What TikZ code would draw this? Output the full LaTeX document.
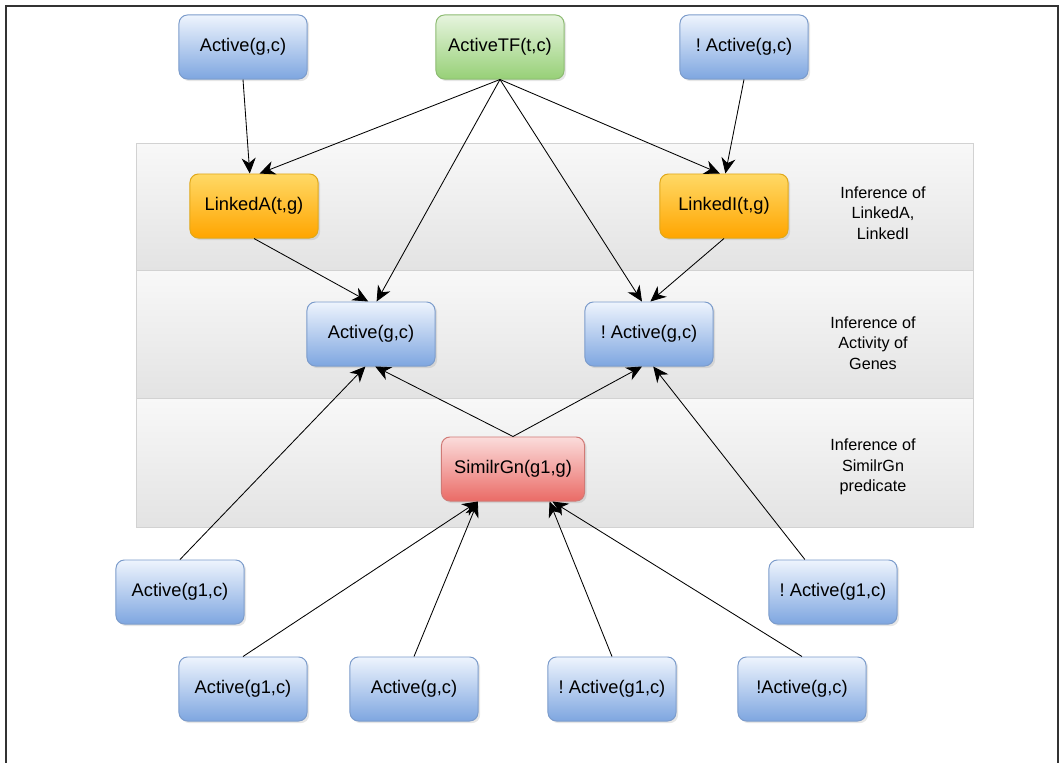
\documentclass[tikz,border=0pt]{standalone}
\usepackage{fontspec}
\setmainfont{Liberation Sans}
\usetikzlibrary{arrows.meta,shadows}
\frenchspacing
\definecolor{blueTop}{HTML}{EEF4FD}
\definecolor{blueBot}{HTML}{7EA6E0}
\definecolor{blueLine}{HTML}{7C9CCB}
\definecolor{greenTop}{HTML}{E6F4DE}
\definecolor{greenBot}{HTML}{97D077}
\definecolor{greenLine}{HTML}{8DBB72}
\definecolor{orangeTop}{HTML}{FFD966}
\definecolor{orangeBot}{HTML}{FFA500}
\definecolor{orangeLine}{HTML}{E0A81A}
\definecolor{redTop}{HTML}{FBDCDB}
\definecolor{redBot}{HTML}{EA6B66}
\definecolor{redLine}{HTML}{D07A76}
\definecolor{bandTop}{HTML}{F8F8F8}
\definecolor{bandBot}{HTML}{E3E3E3}
\definecolor{bandLine}{HTML}{D2D2D2}
\begin{document}
\begin{tikzpicture}[x=0.025cm, y=-0.025cm,
  pred/.style = {shape=rectangle, rounded corners=6pt, draw, line width=0.7pt,
    minimum width=3.2cm, minimum height=1.6cm, align=center,
    font=\fontsize{13}{15}\selectfont,
    drop shadow={opacity=0.2, shadow xshift=1.5pt, shadow yshift=-1.5pt}},
  gene/.style = {pred, draw=blueLine, top color=blueTop, bottom color=blueBot},
  tf/.style = {pred, draw=greenLine, top color=greenTop, bottom color=greenBot},
  link/.style = {pred, draw=orangeLine, top color=orangeTop, bottom color=orangeBot},
  simil/.style = {pred, draw=redLine, top color=redTop, bottom color=redBot, minimum width=3.575cm},
  band/.style = {draw=bandLine, top color=bandTop, bottom color=bandBot, line width=0.6pt},
  note/.style = {align=center, font=\fontsize{11.5}{14.5}\selectfont},
  edge/.style = {line width=0.6pt, -{Stealth[length=11pt, width=10pt, inset=3.5pt]}}]
\useasboundingbox (0,0) rectangle (1060,763);
\draw[line width=1.1pt, black!80] (6,763) -- (6,6) -- (1058,6) -- (1058,763);

% Bands
\draw[band] (136,143) rectangle (973,270);
\draw[band] (136,270) rectangle (973,398);
\draw[band] (136,398) rectangle (973,527);
\node[note] (noteLink) at (883,213) {Inference of\\LinkedA,\\LinkedI};
\node[note] (noteAct) at (873,343) {Inference of\\Activity of\\Genes};
\node[note] (noteSim) at (873,467) {Inference of\\SimilrGn\\predicate};

% Top row
\node[gene] (actTop) at (243,47) {Active(g,c)};
\node[tf] (actTF) at (500,47) {ActiveTF(t,c)};
\node[gene] (nactTop) at (744,47) {! Active(g,c)};

% Linked
\node[link] (linkA) at (254,206) {LinkedA(t,g)};
\node[link] (linkI) at (724,206) {LinkedI(t,g)};

% Activity of genes
\node[gene] (act) at (371,334) {Active(g,c)};
\node[gene] (nact) at (649,334) {! Active(g,c)};

% Similarity
\node[simil] (simil) at (513,469) {SimilrGn(g1,g)};

% Lower nodes
\node[gene] (actG1L) at (180,592) {Active(g1,c)};
\node[gene] (nactG1R) at (833,592) {! Active(g1,c)};
\node[gene] (actG1) at (243,689) {Active(g1,c)};
\node[gene] (actG) at (414,689) {Active(g,c)};
\node[gene] (nactG1) at (612,689) {! Active(g1,c)};
\node[gene] (nactG) at (802,689) {!Active(g,c)};

% Edges
\draw[edge] (actTop.south) -- ([xshift=-3pt]linkA.north);
\draw[edge] (actTF.south) -- ([xshift=4pt]linkA.north);
\draw[edge] (actTF.south) -- ([xshift=4pt]act.north);
\draw[edge] (actTF.south) -- ([xshift=-5pt]nact.north);
\draw[edge] (actTF.south) -- ([xshift=-3pt]linkI.north);
\draw[edge] (nactTop.south) -- ([xshift=1pt]linkI.north);
\draw[edge] (linkA.south) -- ([xshift=-2pt]act.north);
\draw[edge] (linkI.south) -- ([xshift=1pt]nact.north);
\draw[edge] (simil.north) -- ([xshift=3pt]act.south);
\draw[edge] (simil.north) -- ([xshift=-5pt]nact.south);
\draw[edge] (actG1L.north) -- ([xshift=-4pt]act.south);
\draw[edge] ([xshift=-20pt]nactG1R.north) -- ([xshift=3pt]nact.south);
\draw[edge] (actG1.north) -- ([xshift=-25pt]simil.south);
\draw[edge] (actG.north) -- ([xshift=-25pt]simil.south);
\draw[edge] (nactG1.north) -- ([xshift=26pt]simil.south);
\draw[edge] (nactG.north) -- ([xshift=28pt]simil.south);
\end{tikzpicture}
\end{document}
